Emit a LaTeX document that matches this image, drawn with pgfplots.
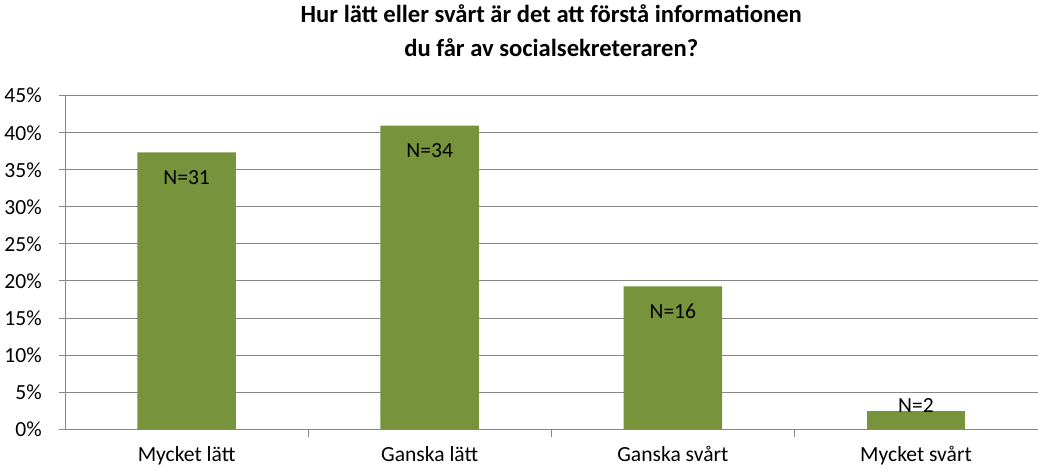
\documentclass[border=0pt]{standalone}
\usepackage{pgfplots}
\pgfplotsset{compat=1.18}
\usepackage{fontspec}
\setmainfont{Carlito}
\definecolor{bargreen}{HTML}{77933C}
\definecolor{gridgray}{HTML}{868686}
\begin{document}
\begin{tikzpicture}
\begin{axis}[
    scale only axis,
    width=730.5pt, height=250.5pt,
    xmin=-0.5, xmax=3.5,
    ymin=0, ymax=45,
    axis x line*=bottom, axis y line*=left,
    axis line style={gridgray, line width=0.75pt},
    tick style={gridgray, line width=0.75pt},
    tick align=outside,
    major tick length=4.5pt,
    minor tick length=6pt,
    ytick={0,5,...,45},
    yticklabel={\pgfmathprintnumber{\tick}\%},
    yticklabel style={xshift=-9.5pt},
    xticklabel style={yshift=-5pt},
    ymajorgrids,
    grid style={gridgray, line width=0.75pt},
    xtick={0,1,2,3},
    xticklabels={Mycket lätt, Ganska lätt, Ganska svårt, Mycket svårt},
    major x tick style={draw=none},
    minor xtick={0.5,1.5,2.5},
    ticklabel style={font=\fontsize{16.2}{19}\selectfont},
    /pgf/number format/assume math mode=true,
    title={Hur lätt eller svårt är det att förstå informationen\\du får av socialsekreteraren?},
    title style={align=center, font=\fontsize{18.5}{25.5}\selectfont\bfseries, yshift=20pt},
    ybar, bar width=74pt, bar shift=0pt,
    point meta=explicit symbolic,
    nodes near coords,
    nodes near coords style={font=\fontsize{16.2}{19}\selectfont, text=black},
]
\addplot[fill=bargreen, draw=none,
    every node near coord/.append style={anchor=center, yshift=-19pt}]
coordinates {(0,37.35) [N=31] (1,40.96) [N=34] (2,19.28) [N=16]};
\addplot[fill=bargreen, draw=none,
    every node near coord/.append style={anchor=center, yshift=4.5pt}]
coordinates {(3,2.41) [N=2]};
\end{axis}
\end{tikzpicture}
\end{document}
